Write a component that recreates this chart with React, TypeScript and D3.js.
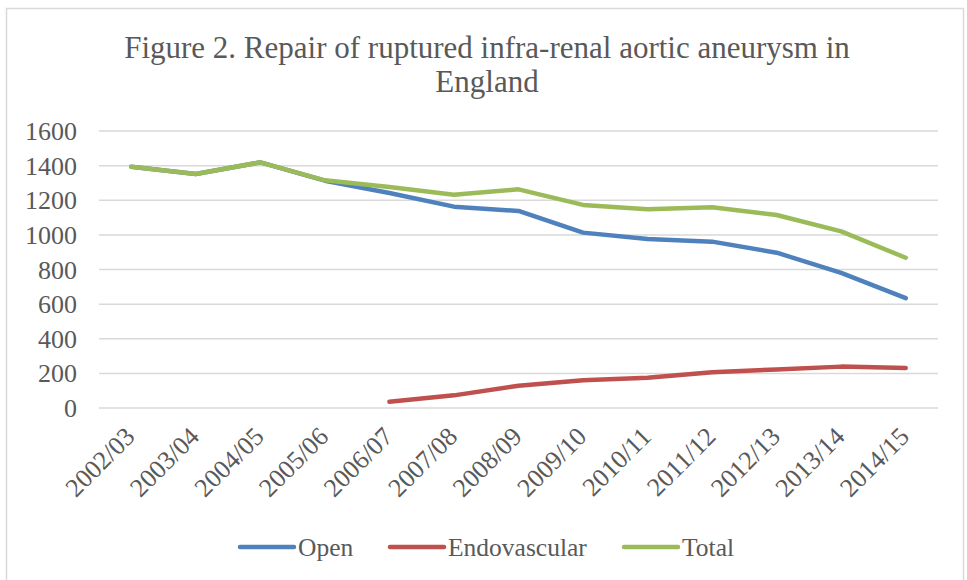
import React from 'react';
import { scalePoint, scaleLinear, line } from 'd3';

const years = [
  '2002/03', '2003/04', '2004/05', '2005/06', '2006/07', '2007/08', '2008/09',
  '2009/10', '2010/11', '2011/12', '2012/13', '2013/14', '2014/15',
];
const openRepair = [1394, 1352, 1419, 1313, 1242, 1163, 1138, 1013, 976, 961, 897, 780, 635];
const endovascular = [null, null, null, null, 36, 73, 129, 160, 175, 206, 223, 239, 231];
const total = [1394, 1352, 1419, 1315, 1276, 1232, 1263, 1173, 1148, 1160, 1115, 1020, 868];
const yTicks = [0, 200, 400, 600, 800, 1000, 1200, 1400, 1600];

const series = [
  { name: 'Open', values: openRepair, color: '#4F81BD' },
  { name: 'Endovascular', values: endovascular, color: '#C0504D' },
  { name: 'Total', values: total, color: '#9BBB59' },
];

const W = 967;
const H = 580;
const left = 99;
const right = 938;
const top = 131;
const bottom = 408;
const textColor = '#595959';
const font = '"Liberation Serif", serif';

export default function App() {
  const x = scalePoint<string>().domain(years).range([left, right]).padding(0.5);
  const y = scaleLinear().domain([0, 1600]).range([bottom, top]);

  // skip the missing years so Endovascular starts in 2006/07
  const makeLine = line<number | null>()
    .defined((d) => d != null)
    .x((d, i) => x(years[i]) as number)
    .y((d) => y(d as number));

  const legendItems = [
    { name: 'Open', x: 240 },
    { name: 'Endovascular', x: 390 },
    { name: 'Total', x: 624 },
  ];

  return (
    <svg
      width={W}
      height={H}
      style={{ position: 'absolute', left: 0, top: 0, background: '#fff' }}
      fontFamily={font}
    >
      <rect x={6.5} y={8.5} width={957} height={H} fill="#fff" stroke="#D9D9D9" strokeWidth={1.5} />

      <text x={487} y={58} textAnchor="middle" fontSize={31} fill={textColor}>
        Figure 2. Repair of ruptured infra-renal aortic aneurysm in
      </text>
      <text x={487} y={92} textAnchor="middle" fontSize={31} fill={textColor}>
        England
      </text>

      {yTicks.map((t) => (
        <g key={t}>
          <line x1={left} x2={right} y1={y(t)} y2={y(t)} stroke="#D9D9D9" strokeWidth={1.5} />
          <text x={77} y={y(t)} dy="0.35em" textAnchor="end" fontSize={26} fill={textColor}>
            {t}
          </text>
        </g>
      ))}

      {years.map((yr) => (
        <text
          key={yr}
          transform={`translate(${(x(yr) as number) + 5},${bottom + 30}) rotate(-45)`}
          textAnchor="end"
          fontSize={26}
          fill={textColor}
        >
          {yr}
        </text>
      ))}

      {series.map((s) => (
        <path
          key={s.name}
          d={makeLine(s.values) || ''}
          fill="none"
          stroke={s.color}
          strokeWidth={4.5}
          strokeLinecap="round"
          strokeLinejoin="round"
        />
      ))}

      {series.map((s, i) => (
        <g key={s.name} transform={`translate(${legendItems[i].x},547)`}>
          <line x1={0} x2={54} y1={0} y2={0} stroke={s.color} strokeWidth={4.5} strokeLinecap="round" />
          <text x={58} y={0} dy="0.35em" fontSize={25.5} fill={textColor}>
            {s.name}
          </text>
        </g>
      ))}
    </svg>
  );
}
